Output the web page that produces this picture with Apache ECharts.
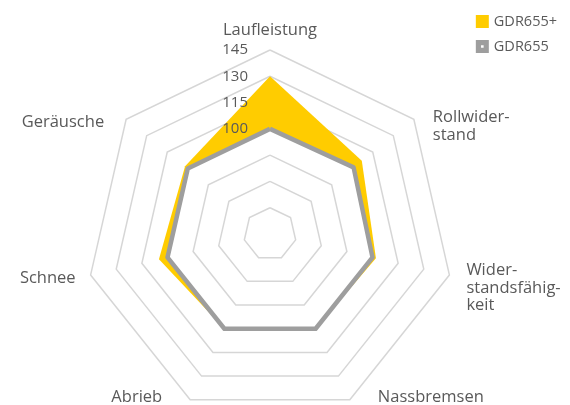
<!DOCTYPE html>
<html>
<head>
<meta charset="utf-8">
<script src="https://cdn.jsdelivr.net/npm/echarts@6/dist/echarts.min.js"></script>
<style>html,body{margin:0;padding:0;background:#fff}#c{width:570px;height:405px}</style>
</head>
<body>
<div id="c"></div>
<script>
// Indicators in ECharts order (counter-clockwise from the top)
const categories = ["Laufleistung", "Geräusche", "Schnee", "Abrieb", "Nassbremsen", "Wider-\nstandsfähig-\nkeit", "Rollwider-\nstand"];
const seriesNames = ["GDR655+", "GDR655"];
const gdr655plus = [130, 102, 105, 100, 100, 102, 107];
const gdr655 = [100, 100, 100, 100, 100, 100, 101];
const axisMin = 40, axisMax = 145, axisSplits = 7;
const tickLabelsShown = [100, 115, 130, 145];

// ---- layout / style (not data) ----
const CX = 270, CY = 234, R = 184;
const TXT = '#595959';
const FONT = '"Open Sans", sans-serif';
const YELLOW = '#ffcc00', GRAY = '#9e9e9e', GRID = '#d6d6d6';
// name label offsets from the outer vertex: [dx, dy, align]
const nameOffsets = [
  [0, -20, 'center'],
  [-22, 3, 'right'],
  [-15, 3, 'right'],
  [-28, -2, 'right'],
  [28, -2, 'left'],
  [17, 13, 'left'],
  [19, 7, 'left']
];

const n = categories.length;
const baseIndicator = categories.map(nm => ({ name: nm, min: axisMin, max: axisMax }));
const topIndicator = categories.map((nm, i) => {
  const o = { name: nm, min: axisMin, max: axisMax };
  if (i === 0) {
    o.axisLabel = {
      show: true, margin: 22, color: TXT, fontSize: 15, fontFamily: FONT,
      formatter: v => tickLabelsShown.indexOf(Math.round(v)) >= 0 ? String(Math.round(v)) : ''
    };
  }
  return o;
});

// ring colours for the overlay radar: centre + 3 inner rings visible, rest transparent
const overlayRingColors = [];
for (let i = 0; i <= axisSplits; i++) overlayRingColors.push(i <= 3 ? GRID : 'rgba(0,0,0,0)');

const nameGraphics = categories.map((nm, i) => {
  const a = Math.PI / 2 + i * 2 * Math.PI / n;
  const vx = CX + R * Math.cos(a), vy = CY - R * Math.sin(a);
  const off = nameOffsets[i];
  return {
    type: 'text', x: vx + off[0], y: vy + off[1], silent: true, z: 10,
    style: {
      text: nm, fill: TXT, fontSize: 16.5, fontFamily: FONT, lineHeight: 17.5,
      align: off[2], textAlign: off[2], verticalAlign: 'middle', textVerticalAlign: 'middle'
    }
  };
});

const chart = echarts.init(document.getElementById('c'), null, { renderer: 'canvas' });
chart.setOption({
  animation: false,
  backgroundColor: '#fff',
  legend: {
    orient: 'vertical', right: 8, top: 9, itemWidth: 13, itemHeight: 13, itemGap: 10, align: 'left',
    textStyle: { color: TXT, fontSize: 14.5, fontFamily: FONT },
    data: [
      { name: seriesNames[0], icon: 'rect', itemStyle: { color: YELLOW } },
      { name: seriesNames[1], icon: 'path://M0,0H10V10H0Z M4,4V6H6V4Z', itemStyle: { color: GRAY } }
    ]
  },
  radar: [{
    center: [CX, CY], radius: R, startAngle: 90, shape: 'polygon', splitNumber: axisSplits,
    indicator: baseIndicator,
    axisName: { show: false },
    axisLine: { show: false }, axisTick: { show: false }, axisLabel: { show: false },
    splitArea: { show: false },
    splitLine: { lineStyle: { color: GRID, width: 1.5 } }
  }, {
    z: 5,
    center: [CX, CY], radius: R, startAngle: 90, shape: 'polygon', splitNumber: axisSplits,
    indicator: topIndicator,
    axisName: { show: false },
    axisLine: { show: false }, axisTick: { show: false }, axisLabel: { show: false },
    splitArea: { show: false },
    splitLine: { lineStyle: { color: overlayRingColors, width: 1.5 } }
  }],
  graphic: nameGraphics,
  series: [{
    type: 'radar',
    radarIndex: 0,
    symbol: 'none',
    data: [
      { name: seriesNames[0], value: gdr655plus, lineStyle: { width: 0, color: YELLOW }, areaStyle: { color: YELLOW, opacity: 1 }, itemStyle: { color: YELLOW } },
      { name: 'mask', value: gdr655, lineStyle: { width: 0, color: '#ffffff' }, areaStyle: { color: '#ffffff', opacity: 1 }, itemStyle: { color: '#ffffff' } },
      { name: seriesNames[1], value: gdr655, lineStyle: { width: 4.5, color: GRAY }, itemStyle: { color: GRAY } }
    ]
  }]
});
</script>
</body>
</html>
